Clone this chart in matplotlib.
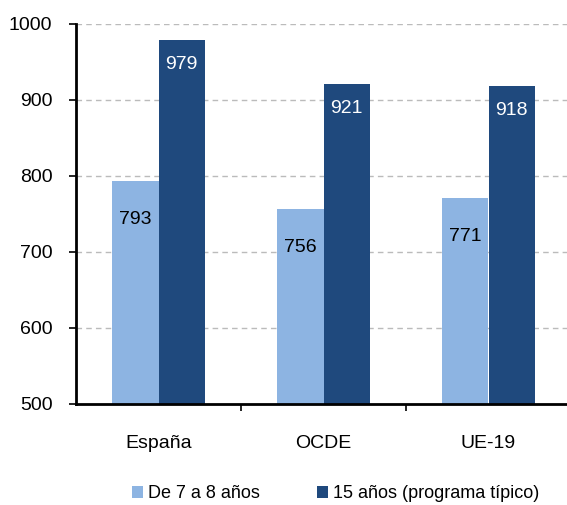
import numpy as np
import matplotlib
matplotlib.use('Agg')
import matplotlib.pyplot as plt

plt.rcParams['font.family'] = ['Liberation Sans', 'DejaVu Sans']

# Data
categories = ['España', 'OCDE', 'UE-19']
series_names = ['De 7 a 8 años', '15 años (programa típico)']
young = [793, 756, 771]
older = [979, 921, 918]
colors = ['#8DB4E2', '#1F497D']

fig = plt.figure(figsize=(5.67, 5.05), dpi=100)
ax = fig.add_axes([76 / 567, 1 - 404 / 505, 495 / 567, 380 / 505])

x = np.arange(len(categories))
w = 0.28
b1 = ax.bar(x - w / 2, np.array(young) - 500, w, bottom=500, color=colors[0], label=series_names[0], zorder=2)
b2 = ax.bar(x + w / 2, np.array(older) - 500, w, bottom=500, color=colors[1], label=series_names[1], zorder=2)

for rect, v in zip(b1, young):
    ax.text(rect.get_x() + rect.get_width() / 2, v - 50, str(v), ha='center', va='center',
            fontsize=14, color='black', zorder=3)
for rect, v in zip(b2, older):
    ax.text(rect.get_x() + rect.get_width() / 2, v - 32, str(v), ha='center', va='center',
            fontsize=14, color='white', zorder=3)

ax.set_ylim(500, 1000)
ax.set_yticks(range(500, 1001, 100))
ax.set_xlim(-0.5, 2.5)
ax.set_xticks(x)
ax.set_xticklabels(categories)
ax.set_xticks([0.5, 1.5], minor=True)
ax.tick_params(axis='x', which='major', length=0, pad=22, labelsize=14)
ax.tick_params(axis='x', which='minor', length=5, width=1.2, direction='out')
ax.tick_params(axis='y', length=5, width=1.2, direction='out', labelsize=14, pad=12)

for v in range(600, 1001, 100):
    ax.axhline(v, color='#BBBBBB', linestyle=(0, (4, 3)), linewidth=1, zorder=1)

for s in ['top', 'right']:
    ax.spines[s].set_visible(False)
ax.spines['left'].set_linewidth(2)
ax.spines['bottom'].set_linewidth(2)

fig.legend(handles=[b1, b2], labels=series_names, loc='center', bbox_to_anchor=(0.592, 1 - 494 / 505),
           ncol=2, frameon=False, fontsize=13, handlelength=0.6, handleheight=0.6,
           handletextpad=0.3, columnspacing=3.15)

fig.savefig('out.png', dpi=100)
